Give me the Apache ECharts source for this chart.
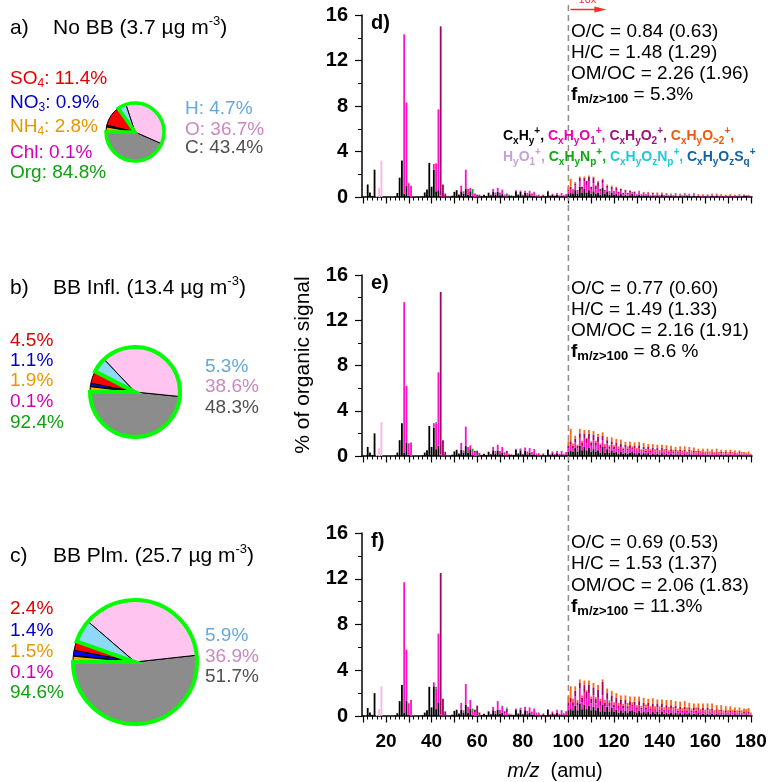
<!DOCTYPE html>
<html>
<head>
<meta charset="utf-8">
<script src="https://cdn.jsdelivr.net/npm/echarts@6/dist/echarts.min.js"></script>
<style>
  html, body { margin: 0; padding: 0; background: #fff; }
  #chart { width: 769px; height: 782px; }
</style>
</head>
<body>
<div id="chart"></div>
<script>
const FONT = "'Liberation Sans', Arial, Helvetica, sans-serif";

// ---------- bulk composition pies ----------
const pieNames = ['C', 'O', 'H', 'SO4', 'NO3', 'Chl', 'NH4'];
const pieColors = ['#8c8c8c', '#ffc4f0', '#8ed8f8', '#ff0000', '#0000ff', '#ff00ff', '#ffa500'];
const pieNoBB = [43.4, 36.7, 4.7, 11.4, 0.9, 0.1, 2.8];
const pieInfl = [48.3, 38.6, 5.3, 4.5, 1.1, 0.1, 1.9];
const piePlume = [51.7, 36.9, 5.9, 2.4, 1.4, 0.1, 1.5];
const orgShare = [84.8, 92.4, 94.6];
const massConc = ['3.7', '13.4', '25.7'];
const caseNames = ['No BB', 'BB Infl.', 'BB Plm.'];

// ---------- elemental ratios ----------
const ocText = ['0.84 (0.63)', '0.77 (0.60)', '0.69 (0.53)'];
const hcText = ['1.48 (1.29)', '1.49 (1.33)', '1.53 (1.37)'];
const omocText = ['2.26 (1.96)', '2.16 (1.91)', '2.06 (1.83)'];
const fHighText = ['5.3%', '8.6 %', '11.3%'];

// ---------- mass spectra (% of organic signal, m/z > 100 shown x10) ----------
const MZ_MIN = 10, MZ_MAX = 180, HIGH_START = 100;
const mzCategories = [];
for (let m = MZ_MIN; m <= MZ_MAX; m++) mzCategories.push(String(m));
const familyColors = ['#000000', '#ff10c8', '#a00068', '#ff6414', '#ffb4e6', '#00b000', '#00cccc', '#0068b0'];

// panel d: No BB
const d_CxHy_low = [[12,1.1],[13,0.4],[14,0.1],[15,2.4],[24,0.05],[25,0.35],[26,1.7],[27,3.2],[28,0.3],[29,1.0],[30,0.1],[36,0.05],[37,0.4],[38,0.65],[39,3.0],[40,0.9],[41,2.4],[42,0.5],[43,0.6],[44,0.05],[49,0.1],[50,0.45],[51,0.6],[52,0.2],[53,0.5],[54,0.3],[55,0.7],[56,0.2],[57,0.5],[58,0.05],[61,0.05],[62,0.1],[63,0.2],[64,0.1],[65,0.35],[66,0.15],[67,0.45],[68,0.2],[69,0.45],[70,0.15],[71,0.25],[72,0.05],[73,0.05],[74,0.1],[75,0.1],[76,0.1],[77,0.5],[78,0.2],[79,0.45],[80,0.15],[81,0.35],[82,0.15],[83,0.25],[84,0.1],[85,0.1],[86,0.05],[87,0.05],[88,0.05],[89,0.15],[90,0.05],[91,0.5],[92,0.1],[93,0.2],[94,0.1],[95,0.2],[96,0.05],[97,0.1],[98,0.05],[99,0.05]];
const d_CxHyO1_low = [[28,14.0],[29,7.3],[30,1.1],[31,1.0],[32,0.05],[41,0.5],[42,2.4],[43,7.1],[44,0.1],[47,0.05],[52,0.05],[53,0.5],[54,0.2],[55,1.7],[56,0.5],[57,0.3],[58,0.3],[59,0.2],[60,0.05],[61,0.05],[65,0.05],[66,0.05],[67,0.25],[68,0.2],[69,0.35],[70,0.25],[71,0.35],[72,0.1],[73,0.15],[74,0.05],[75,0.05],[77,0.1],[78,0.05],[79,0.1],[80,0.05],[81,0.2],[82,0.2],[83,0.3],[84,0.2],[85,0.3],[86,0.1],[87,0.1],[88,0.05],[89,0.05],[91,0.05],[92,0.05],[93,0.1],[94,0.05],[95,0.15],[96,0.1],[97,0.2],[98,0.1],[99,0.15]];
const d_CxHyO2_low = [[44,14.85],[45,1.1],[46,0.3],[47,0.05],[59,0.1],[60,0.15],[61,0.1],[71,0.05],[72,0.05],[73,0.1],[74,0.05],[85,0.05],[87,0.05],[97,0.05],[99,0.05]];
const d_CxHyOgt2_low = [[61,0.02],[75,0.02],[89,0.03]];
const d_HyO1 = [[16,0.1],[17,0.8],[18,3.2]];
const d_CxHyNp = [[30,0.05],[42,0.05],[58,0.35],[72,0.03],[86,0.03]];
const d_CxHyOzNp = [[46,0.02],[60,0.02]];
const d_CxHyOzSq = [[79,0.02]];
const d_CxHy_high = [.3,.4,.3,.6,.3,.9,.4,.7,.4,.6, .3,.5,.3,.4,.2,.8,.3,.5,.2,.4, .2,.3,.15,.25,.1,.2,.1,.15,.3,.15, .1,.2,.1,.15,.1,.15,.05,.1,.05,.15, .05,.2,.05,.1,.05,.1,.05,.1,.05,.1, .05,.1,.1,.1,.05,.1,.05,.1,.05,.05, .05,.05,.05,.1,.05,.1,.05,.05,.05,.05, .05,.05,.05,.05,.05,.05,.05,.1,.1,.05,.05];
const d_CxHyO1_high = [.2,.3,.2,.4,.2,.5,.3,.7,.6,.8, .4,.7,.4,.5,.3,.4,.2,.3,.2,.3, .2,.3,.2,.3,.15,.25,.15,.25,.1,.2, .1,.2,.1,.15,.1,.15,.05,.15,.05,.15, .05,.1,.05,.1,.05,.1,.05,.1,.05,.1, .05,.1,.05,.1,.05,.1,.05,.05,.05,.05, .05,.1,.05,.05,.05,.1,.05,.05,.05,.05, .05,.05,.05,.05,.05,.05,.05,.05,.05,.05,.05];
const d_CxHyO2_high = [.1,.2,.1,.2,.1,.3,.2,.3,.4,.4, .2,.5,.3,.4,.2,.3,.1,.2,.1,.2, .1,.2,.1,.15,.1,.15,.1,.15,.05,.1, .05,.1,.05,.1,.05,.1,.05,.1,.05,.05, .05,.05,.05,.05,.05,.05,.05,.05,0,.05, .05,.05,0,.05,0,.05,0,.05,0,.05, 0,.05,0,.05,0,.05,0,.05,0,.05, 0,.05,0,.05,0,.05,0,.05,0,.05,0];
const d_CxHyOgt2_high = [.3,.7,.1,.1,0,.1,0,.1,0,.1, 0,.1,0,.1,0,.1,0,.1,0,.1, 0,.1,0,.05,0,.05,0,.05,0,.05, 0,.05,0,.05,0,.05,0,.05,0,.05, 0,.05,0,.1,0,.05,0,.1,0,.05, 0,.1,0,.05,0,.1,0,.05,0,.1, 0,.05,0,.1,0,.05,0,.1,0,.05, 0,.1,0,.05,0,.1,0,.05,0,.05,0];

// panel e: BB influenced
const e_CxHy_low = [[12,0.8],[13,0.3],[14,0.1],[15,2.0],[24,0.05],[25,0.3],[26,1.4],[27,2.9],[28,0.3],[29,1.2],[30,0.1],[36,0.05],[37,0.3],[38,0.5],[39,2.65],[40,0.8],[41,2.5],[42,0.6],[43,0.9],[44,0.05],[49,0.1],[50,0.4],[51,0.55],[52,0.2],[53,0.55],[54,0.3],[55,0.9],[56,0.3],[57,0.6],[58,0.05],[61,0.05],[62,0.1],[63,0.2],[64,0.1],[65,0.35],[66,0.15],[67,0.5],[68,0.2],[69,0.5],[70,0.15],[71,0.3],[72,0.05],[73,0.05],[74,0.1],[75,0.1],[76,0.1],[77,0.55],[78,0.2],[79,0.5],[80,0.15],[81,0.45],[82,0.15],[83,0.3],[84,0.1],[85,0.15],[86,0.05],[87,0.05],[88,0.05],[89,0.15],[90,0.05],[91,0.55],[92,0.1],[93,0.25],[94,0.1],[95,0.25],[96,0.05],[97,0.15],[98,0.05],[99,0.1]];
const e_CxHyO1_low = [[28,13.3],[29,5.0],[30,1.0],[31,1.2],[32,0.05],[41,0.4],[42,2.3],[43,6.5],[44,0.1],[47,0.05],[52,0.05],[53,0.6],[54,0.2],[55,1.7],[56,0.5],[57,0.35],[58,0.3],[59,0.3],[60,0.1],[61,0.05],[65,0.05],[66,0.05],[67,0.3],[68,0.25],[69,0.5],[70,0.3],[71,0.45],[72,0.15],[73,0.2],[74,0.05],[75,0.05],[77,0.1],[78,0.05],[79,0.15],[80,0.05],[81,0.3],[82,0.25],[83,0.4],[84,0.25],[85,0.4],[86,0.15],[87,0.15],[88,0.05],[89,0.05],[91,0.05],[92,0.05],[93,0.15],[94,0.1],[95,0.2],[96,0.15],[97,0.25],[98,0.15],[99,0.2]];
const e_CxHyO2_low = [[44,14.35],[45,1.4],[46,0.35],[47,0.05],[59,0.15],[60,0.35],[61,0.15],[71,0.05],[72,0.1],[73,0.2],[74,0.05],[85,0.05],[87,0.05],[97,0.05],[99,0.05]];
const e_CxHyOgt2_low = [[61,0.03],[75,0.03],[89,0.05]];
const e_HyO1 = [[16,0.1],[17,0.7],[18,3.0]];
const e_CxHyNp = [[30,0.05],[42,0.08],[58,0.3],[72,0.03],[86,0.03]];
const e_CxHyOzNp = [[46,0.03],[60,0.03]];
const e_CxHyOzSq = [[79,0.02]];
const e_CxHy_high = [.4,.5,.4,.7,.4,.9,.5,.8,.5,.7, .4,.6,.4,.5,.3,.8,.3,.6,.3,.5, .3,.4,.2,.35,.2,.3,.2,.3,.35,.25, .15,.3,.15,.25,.15,.25,.1,.2,.1,.2, .1,.25,.1,.2,.1,.15,.1,.15,.1,.15, .1,.15,.1,.15,.1,.1,.1,.15,.05,.1, .05,.1,.05,.1,.05,.1,.05,.1,.05,.1, .05,.1,.05,.05,.05,.1,.05,.05,.05,.05,.05];
const e_CxHyO1_high = [.3,.5,.3,.5,.3,.7,.4,.8,.6,.8, .5,.8,.5,.7,.4,.6,.35,.5,.35,.5, .3,.5,.3,.45,.3,.45,.3,.4,.25,.4, .25,.4,.25,.35,.2,.35,.25,.35,.2,.3, .2,.3,.2,.3,.2,.3,.15,.25,.2,.25, .15,.25,.15,.25,.15,.2,.15,.2,.15,.2, .15,.2,.1,.2,.15,.2,.1,.15,.1,.15, .1,.15,.1,.15,.1,.15,.1,.1,.1,.1,.05];
const e_CxHyO2_high = [.2,.3,.2,.3,.2,.4,.3,.4,.4,.5, .3,.5,.3,.5,.3,.4,.2,.3,.2,.3, .2,.3,.15,.3,.15,.25,.15,.25,.1,.25, .1,.25,.1,.2,.1,.2,.1,.2,.1,.2, .1,.2,.1,.15,.1,.15,.1,.15,.05,.15, .05,.15,.05,.15,.05,.15,.05,.1,.05,.1, .05,.1,.05,.1,.05,.1,.05,.1,.05,.1, .05,.1,.05,.1,.05,.1,.05,.05,.05,.05,0];
const e_CxHyOgt2_high = [.4,1.1,.2,.3,.1,.4,.15,.3,.1,.3, .1,.3,.15,.25,.1,.3,.2,.3,.1,.35, .15,.3,.2,.35,.1,.25,.2,.3,.15,.3, .2,.3,.1,.35,.2,.25,.15,.3,.2,.3, .15,.25,.2,.3,.1,.3,.2,.25,.15,.3, .2,.3,.1,.25,.2,.3,.15,.2,.2,.25, .15,.25,.2,.2,.1,.25,.15,.2,.15,.2, .1,.2,.15,.2,.1,.15,.15,.15,.1,.2,.1];

// panel f: BB plume
const f_CxHy_low = [[12,0.7],[13,0.3],[14,0.1],[15,2.0],[24,0.05],[25,0.25],[26,1.3],[27,2.7],[28,0.3],[29,1.3],[30,0.1],[36,0.05],[37,0.3],[38,0.5],[39,2.55],[40,0.75],[41,2.6],[42,0.6],[43,1.2],[44,0.05],[49,0.1],[50,0.45],[51,0.55],[52,0.2],[53,0.55],[54,0.3],[55,1.0],[56,0.3],[57,0.6],[58,0.05],[61,0.05],[62,0.1],[63,0.2],[64,0.1],[65,0.4],[66,0.15],[67,0.5],[68,0.2],[69,0.55],[70,0.2],[71,0.3],[72,0.05],[73,0.05],[74,0.1],[75,0.1],[76,0.1],[77,0.55],[78,0.2],[79,0.55],[80,0.15],[81,0.5],[82,0.15],[83,0.3],[84,0.1],[85,0.15],[86,0.05],[87,0.05],[88,0.05],[89,0.15],[90,0.05],[91,0.55],[92,0.1],[93,0.25],[94,0.1],[95,0.3],[96,0.05],[97,0.15],[98,0.05],[99,0.1]];
const f_CxHyO1_low = [[28,11.4],[29,4.5],[30,1.0],[31,1.4],[32,0.05],[41,0.35],[42,1.8],[43,6.0],[44,0.1],[47,0.05],[52,0.05],[53,0.6],[54,0.2],[55,1.8],[56,0.5],[57,0.8],[58,0.3],[59,0.35],[60,0.1],[61,0.05],[65,0.05],[66,0.05],[67,0.3],[68,0.25],[69,0.75],[70,0.35],[71,0.55],[72,0.2],[73,0.3],[74,0.05],[75,0.05],[77,0.1],[78,0.05],[79,0.15],[80,0.05],[81,0.3],[82,0.3],[83,0.45],[84,0.3],[85,0.45],[86,0.2],[87,0.2],[88,0.05],[89,0.05],[91,0.05],[92,0.05],[93,0.15],[94,0.1],[95,0.25],[96,0.15],[97,0.3],[98,0.2],[99,0.25]];
const f_CxHyO2_low = [[44,12.35],[45,1.5],[46,0.4],[47,0.05],[59,0.2],[60,0.8],[61,0.2],[71,0.05],[72,0.15],[73,0.3],[74,0.05],[85,0.05],[87,0.05],[97,0.05],[99,0.05]];
const f_CxHyOgt2_low = [[61,0.03],[75,0.05],[89,0.05]];
const f_HyO1 = [[16,0.1],[17,0.6],[18,2.6]];
const f_CxHyNp = [[30,0.05],[42,0.15],[58,0.3],[72,0.05],[86,0.05]];
const f_CxHyOzNp = [[46,0.03],[60,0.03],[73,0.1],[118,0.08]];
const f_CxHyOzSq = [[79,0.02]];
const f_CxHy_high = [.5,.6,.5,.9,.5,1.1,.6,1.0,.6,.9, .5,.8,.5,.7,.4,1.0,.4,.8,.4,.7, .35,.55,.3,.5,.3,.45,.3,.45,.5,.4, .25,.45,.25,.4,.25,.4,.2,.35,.2,.35, .2,.35,.2,.3,.2,.3,.15,.3,.15,.25, .15,.25,.15,.25,.15,.2,.15,.25,.1,.2, .1,.2,.1,.2,.1,.2,.1,.15,.1,.15, .1,.15,.1,.15,.1,.15,.1,.1,.15,.1,.05];
const f_CxHyO1_high = [.4,.6,.4,.8,.4,1.3,.6,1.1,.9,1.1, .6,1.0,.6,.9,.5,.8,.45,.7,.45,.6, .4,.6,.4,.55,.4,.55,.35,.5,.35,.5, .3,.5,.3,.45,.3,.45,.3,.45,.25,.4, .25,.4,.25,.4,.25,.4,.25,.35,.2,.35, .2,.35,.2,.3,.2,.3,.2,.3,.2,.3, .2,.3,.2,.3,.15,.25,.15,.25,.15,.2, .15,.2,.15,.2,.15,.2,.15,.15,.15,.15,.1];
const f_CxHyO2_high = [.3,.4,.3,.5,.3,.5,.4,.6,.6,.7, .4,.7,.4,.7,.4,1.2,.3,.5,.3,.5, .25,.45,.2,.4,.2,.4,.2,.35,.15,.35, .15,.35,.15,.3,.15,.3,.15,.3,.15,.3, .1,.3,.1,.25,.1,.25,.1,.25,.1,.2, .1,.2,.1,.2,.1,.2,.1,.2,.05,.2, .05,.2,.05,.15,.05,.15,.05,.15,.05,.15, .05,.15,.05,.1,.05,.1,.05,.1,.05,.1,0];
const f_CxHyOgt2_high = [.5,1.0,.3,.4,.2,.3,.2,.4,.15,.4, .2,.4,.15,.4,.2,.2,.25,.4,.15,.4, .2,.4,.25,.35,.15,.4,.3,.4,.2,.45, .25,.4,.2,.45,.3,.35,.2,.45,.25,.4, .3,.4,.2,.45,.25,.45,.3,.4,.2,.45, .25,.5,.3,.4,.2,.4,.3,.35,.25,.4, .2,.4,.25,.45,.2,.35,.25,.4,.2,.35, .2,.35,.25,.3,.2,.3,.2,.3,.25,.35,.15];

const panels = [
  { stack: 'd', families: [[d_CxHy_low, d_CxHy_high], [d_CxHyO1_low, d_CxHyO1_high], [d_CxHyO2_low, d_CxHyO2_high], [d_CxHyOgt2_low, d_CxHyOgt2_high], [d_HyO1], [d_CxHyNp], [d_CxHyOzNp], [d_CxHyOzSq]] },
  { stack: 'e', families: [[e_CxHy_low, e_CxHy_high], [e_CxHyO1_low, e_CxHyO1_high], [e_CxHyO2_low, e_CxHyO2_high], [e_CxHyOgt2_low, e_CxHyOgt2_high], [e_HyO1], [e_CxHyNp], [e_CxHyOzNp], [e_CxHyOzSq]] },
  { stack: 'f', families: [[f_CxHy_low, f_CxHy_high], [f_CxHyO1_low, f_CxHyO1_high], [f_CxHyO2_low, f_CxHyO2_high], [f_CxHyOgt2_low, f_CxHyOgt2_high], [f_HyO1], [f_CxHyNp], [f_CxHyOzNp], [f_CxHyOzSq]] }
];

// sparse [m/z, value] pairs plus a dense run from m/z 100 -> one value per unit mass
function unitMassSeries(low, high) {
  const vals = new Map();
  low.forEach(([m, v]) => vals.set(m, v));
  if (high) high.forEach((v, i) => { if (HIGH_START + i <= MZ_MAX) vals.set(HIGH_START + i, v); });
  const out = [];
  for (let m = MZ_MIN; m <= MZ_MAX; m++) out.push(vals.get(m) || 0);
  return out;
}

// ---------- layout ----------
const gridBoxes = [
  { left: 362, top: 15, width: 390, height: 182 },
  { left: 362, top: 275, width: 390, height: 181 },
  { left: 362, top: 533, width: 390, height: 183 }
];
const pieGeom = [
  { center: [135, 132], r: 29, ring: 3.5 },
  { center: [135, 392], r: 45, ring: 4 },
  { center: [135, 662], r: 62, ring: 4 }
];

const chart = echarts.init(document.getElementById('chart'), null, { renderer: 'canvas' });

const grids = gridBoxes.map(g => Object.assign({ containLabel: false, outerBoundsMode: 'none' }, g));

const xAxes = [];
gridBoxes.forEach((g, i) => {
  // main m/z axis: line, fine ticks every 2 amu, labels every 20 amu
  xAxes.push({
    type: 'category', gridIndex: i, data: mzCategories, boundaryGap: true, position: 'bottom',
    axisLine: { show: true, onZero: false, lineStyle: { color: '#000', width: 1.5 } },
    axisTick: { show: true, alignWithLabel: true, length: 3.5, lineStyle: { color: '#000', width: 1 },
      interval: (idx, v) => Number(v) % 2 === 0 },
    splitLine: { show: false },
    axisLabel: {
      show: i === 2, margin: 16, fontSize: 19, fontWeight: 'bold', color: '#000', fontFamily: FONT,
      interval: (idx, v) => Number(v) % 20 === 0
    }
  });
});
gridBoxes.forEach((g, i) => {
  // longer ticks every 10 amu
  xAxes.push({
    type: 'category', gridIndex: i, data: mzCategories, boundaryGap: true, position: 'bottom', offset: 0,
    axisLine: { show: false, onZero: false },
    axisTick: { show: true, alignWithLabel: true, length: 6.5, lineStyle: { color: '#000', width: 1.2 },
      interval: (idx, v) => Number(v) % 10 === 0 },
    splitLine: { show: false },
    axisLabel: { show: false }
  });
});

const yAxes = gridBoxes.map((g, i) => ({
  type: 'value', gridIndex: i, min: 0, max: 16, interval: 4,
  axisLine: { show: true, lineStyle: { color: '#000', width: 1.5 } },
  axisTick: { show: true, length: 7, lineStyle: { color: '#000', width: 1.2 } },
  minorTick: { show: true, splitNumber: 2, length: 4, lineStyle: { color: '#000', width: 1 } },
  splitLine: { show: false },
  minorSplitLine: { show: false },
  axisLabel: { margin: 14, fontSize: 20, fontWeight: 'bold', color: '#000', fontFamily: FONT }
}));

const series = [];
panels.forEach((p, pi) => {
  p.families.forEach((fam, fi) => {
    series.push({
      type: 'bar', xAxisIndex: pi, yAxisIndex: pi, stack: p.stack,
      data: unitMassSeries(fam[0], fam[1]),
      barWidth: 1.8, silent: true, animation: false,
      itemStyle: { color: familyColors[fi] }
    });
  });
});

[pieNoBB, pieInfl, piePlume].forEach((vals, i) => {
  const g = pieGeom[i];
  series.push({
    type: 'pie', center: g.center, radius: g.r, startAngle: 180, clockwise: false,
    silent: true, animation: false, label: { show: false }, labelLine: { show: false },
    itemStyle: { borderColor: '#000', borderWidth: 1 },
    data: vals.map((v, k) => ({ name: pieNames[k], value: v, itemStyle: { color: pieColors[k] } }))
  });
  // outline of the organic fraction
  series.push({
    type: 'pie', center: g.center, radius: g.r, startAngle: 180, clockwise: false,
    silent: true, animation: false, label: { show: false }, labelLine: { show: false },
    data: [
      { name: 'Org', value: orgShare[i], itemStyle: { color: 'rgba(0,0,0,0)', borderColor: '#00ff00', borderWidth: g.ring, borderJoin: 'miter' } },
      { name: 'Inorg', value: 100 - orgShare[i], itemStyle: { color: 'rgba(0,0,0,0)', borderWidth: 0 } }
    ]
  });
});

chart.setOption({
  animation: false,
  backgroundColor: '#fff',
  grid: grids, xAxis: xAxes, yAxis: yAxes, series
});

// ---------- text and annotations ----------
function textEl(x, y, text, rich, extra) {
  return Object.assign({
    type: 'text', x, y, silent: true, z: 50,
    style: { text, rich, fontFamily: FONT, verticalAlign: 'middle', align: 'left', fill: '#000' }
  }, extra || {});
}
function tok(size, color, valign, weight, lh) {
  return { fontSize: size, fill: color, fontFamily: FONT, fontWeight: weight || 'normal', verticalAlign: valign, lineHeight: lh || size };
}

const graphics = [];

// pie titles
const panelLetters = ['a)', 'b)', 'c)'];
const titleY = [28, 288, 556];
panelLetters.forEach((l, i) => {
  graphics.push(textEl(10, titleY[i], `{t|${l}}`, { t: tok(21, '#000', 'middle', 'normal', 26) }));
  graphics.push(textEl(53, titleY[i], `{t|${caseNames[i]} (${massConc[i]} µg m}{u|-3}{t|)}`, {
    t: tok(21, '#000', 'middle', 'normal', 26), u: tok(13, '#000', 'top', 'normal', 13)
  }));
});

// pie labels
const leftColors = ['#e00000', '#0000c8', '#e69800', '#d400b4', '#10a010'];
const rightColors = ['#64a8dc', '#cc88c0', '#505050'];
const leftY = [[79, 103, 127, 153, 173], [341, 361, 381, 402, 423], [609, 631, 652, 673, 693]];
const rightY = [[109, 130, 148], [367, 387, 408], [636, 657, 677]];
const rightX = [185, 205, 205];
[pieNoBB, pieInfl, piePlume].forEach((vals, i) => {
  const inorg = [vals[3], vals[4], vals[6], vals[5], orgShare[i]];
  const names = [['SO', '4'], ['NO', '3'], ['NH', '4'], ['Chl', ''], ['Org', '']];
  inorg.forEach((v, k) => {
    const c = leftColors[k];
    const rich = { b: tok(19, c, 'middle', 'normal', 22), s: tok(12, c, 'bottom', 'normal', 12) };
    let txt;
    if (i === 0) {
      txt = `{b|${names[k][0]}}` + (names[k][1] ? `{s|${names[k][1]}}` : '') + `{b|: ${v.toFixed(1)}%}`;
    } else {
      txt = `{b|${v.toFixed(1)}%}`;
    }
    graphics.push(textEl(10, leftY[i][k], txt, rich));
  });
  const org = [vals[2], vals[1], vals[0]];
  const onames = ['H', 'O', 'C'];
  org.forEach((v, k) => {
    const c = rightColors[k];
    const txt = i === 0 ? `{b|${onames[k]}: ${v.toFixed(1)}%}` : `{b|${v.toFixed(1)}%}`;
    graphics.push(textEl(rightX[i], rightY[i][k], txt, { b: tok(19, c, 'middle', 'normal', 22) }));
  });
});

// spectrum panel letters
const specLetters = ['d)', 'e)', 'f)'];
const specLetterY = [23, 283, 541];
specLetters.forEach((l, i) => {
  graphics.push(textEl(371, specLetterY[i], `{t|${l}}`, { t: tok(20, '#000', 'middle', 'bold', 24) }));
});

// elemental ratio annotations
const annY = [[32, 53, 74, 95], [289, 310, 331, 352], [543, 564, 586, 607]];
const annRich = {
  n: tok(19, '#000', 'middle', 'normal', 22),
  fb: tok(19, '#000', 'middle', 'bold', 22),
  sb: tok(13, '#000', 'bottom', 'bold', 13)
};
for (let i = 0; i < 3; i++) {
  graphics.push(textEl(571, annY[i][0], `{n|O/C = ${ocText[i]}}`, annRich));
  graphics.push(textEl(571, annY[i][1], `{n|H/C = ${hcText[i]}}`, annRich));
  graphics.push(textEl(571, annY[i][2], `{n|OM/OC = ${omocText[i]}}`, annRich));
  graphics.push(textEl(571, annY[i][3], `{fb|f}{sb|m/z>100}{n| = ${fHighText[i]}}`, annRich));
}

// ion family key
const keyColors = ['#000000', '#e800b8', '#a0107a', '#e85a10', '#c8a0d8', '#10a810', '#20c8d8', '#1062a0'];
const keyRich = {};
keyColors.forEach((c, k) => {
  keyRich['c' + k] = tok(14, c, 'middle', 'bold', 20);
  keyRich['c' + k + 'b'] = tok(10, c, 'bottom', 'bold', 10);
  keyRich['c' + k + 'p'] = tok(10, c, 'top', 'bold', 10);
});
function ion(k, parts, tail) {
  // parts: [main, sub, main, sub, ...]
  let s = '';
  parts.forEach((p, j) => {
    if (!p) return;
    s += j % 2 === 0 ? `{c${k}|${p}}` : `{c${k}b|${p}}`;
  });
  s += `{c${k}p|+}`;
  if (tail) s += `{c${k}|${tail}}`;
  return s;
}
const keyLine1 = ion(0, ['C', 'x', 'H', 'y'], ', ') + ion(1, ['C', 'x', 'H', 'y', 'O', '1'], ', ') +
  ion(2, ['C', 'x', 'H', 'y', 'O', '2'], ', ') + ion(3, ['C', 'x', 'H', 'y', 'O', '>2'], ',');
const keyLine2 = ion(4, ['H', 'y', 'O', '1'], ', ') + ion(5, ['C', 'x', 'H', 'y', 'N', 'p'], ', ') +
  ion(6, ['C', 'x', 'H', 'y', 'O', 'z', 'N', 'p'], ', ') + ion(7, ['C', 'x', 'H', 'y', 'O', 'z', 'S', 'q'], '');
graphics.push(textEl(503, 136, keyLine1, keyRich));
graphics.push(textEl(503, 157, keyLine2, keyRich));

// axis titles
graphics.push({
  type: 'text', x: 303, y: 365, rotation: Math.PI / 2, silent: true, z: 50,
  style: { text: '% of organic signal', font: `21px ${FONT}`, fill: '#000', align: 'center', verticalAlign: 'middle' }
});
graphics.push({
  type: 'text', x: 555, y: 771, silent: true, z: 50,
  style: {
    text: '{i|m/z}{n|  (amu)}', align: 'center', verticalAlign: 'middle', fontFamily: FONT,
    rich: { i: Object.assign(tok(20, '#000', 'middle', 'normal', 24), { fontStyle: 'italic' }), n: tok(20, '#000', 'middle', 'normal', 24) }
  }
});

// m/z 100 divider and x10 marker
const p100 = chart.convertToPixel({ xAxisIndex: 0, yAxisIndex: 0 }, [String(HIGH_START), 0]);
const pBottom = chart.convertToPixel({ xAxisIndex: 2, yAxisIndex: 2 }, [String(HIGH_START), 0]);
const xd = p100[0];
graphics.push({
  type: 'line', silent: true, z: 1,
  shape: { x1: xd, y1: 5, x2: xd, y2: pBottom[1] },
  style: { stroke: '#8f8f8f', lineWidth: 1.5, lineDash: [6, 4] }
});
graphics.push({
  type: 'line', silent: true, z: 50,
  shape: { x1: xd + 2, y1: 9.5, x2: xd + 30, y2: 9.5 },
  style: { stroke: '#ff2a2a', lineWidth: 1.5 }
});
graphics.push({
  type: 'polygon', silent: true, z: 50,
  shape: { points: [[xd + 38, 9.5], [xd + 26, 6.5], [xd + 26, 12.5]] },
  style: { fill: '#ff2a2a' }
});
graphics.push({
  type: 'text', x: xd + 19, y: 0, silent: true, z: 50,
  style: { text: '10x', font: `11px ${FONT}`, fill: '#ff2a2a', align: 'center', verticalAlign: 'middle' }
});

chart.setOption({ graphic: graphics });
</script>
</body>
</html>
